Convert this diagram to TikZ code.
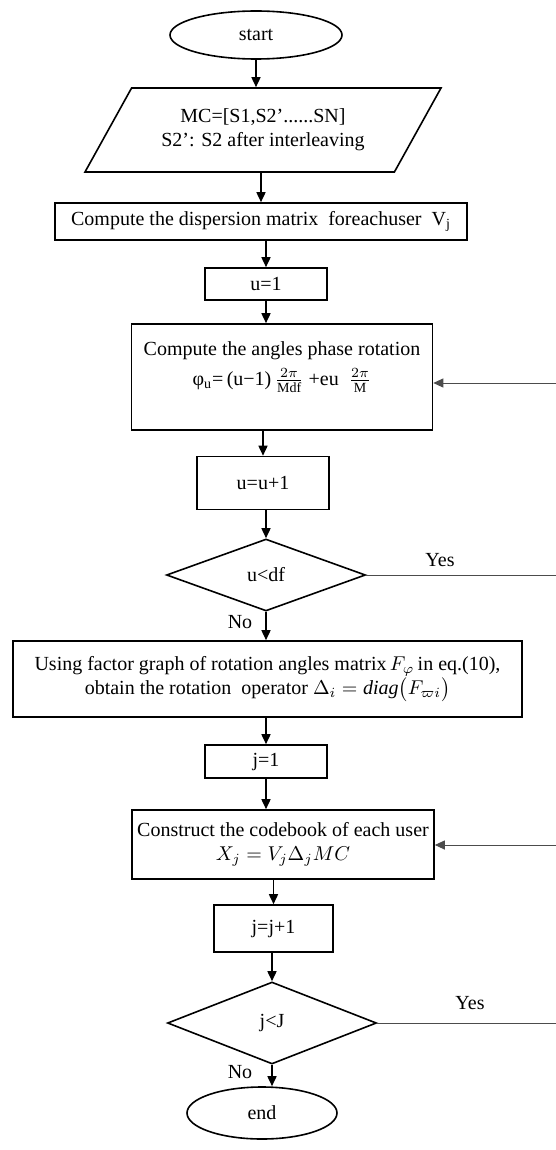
\documentclass[tikz,border=0pt]{standalone}
\usepackage{fontspec}
\setmainfont{Liberation Serif}
\usetikzlibrary{shapes.geometric,arrows.meta}
\tikzset{
  box/.style={draw,line width=0.8pt,rectangle,align=center,inner sep=2pt},
  oval/.style={draw,line width=0.8pt,ellipse,inner sep=1pt},
  cond/.style={draw,line width=0.8pt,diamond,aspect=2.6,inner sep=1pt},
  io/.style={draw,line width=0.8pt,trapezium,trapezium left angle=50,trapezium right angle=130,
    trapezium stretches body,align=center},
  flow/.style={line width=0.8pt,-{Triangle[length=5pt,width=4.5pt]}},
  back/.style={line width=0.5pt,draw=black!70}
}
\begin{document}
\begin{tikzpicture}[x=0.5pt,y=-0.5pt,font=\fontsize{10}{12}\selectfont]
      \useasboundingbox (0,0) rectangle (556,1150);
      \node[oval,minimum width=86pt,minimum height=24pt] (start) at (256,35) {start};
      \node[io,minimum width=178pt,minimum height=42pt] (mc) at (263,130)
        {MC=[S1,S2’......SN]\\S2’: S2 after\ interleaving};
      \node[box,minimum width=206pt,minimum height=18.5pt] (disp) at (261,221.5)
        {Compute the dispersion matrix\ \ foreachuser\ \ V\textsubscript{j}};
      \node[box,minimum width=61pt,minimum height=16pt] (u1) at (266,284) {u=1};
      \node[box,minimum width=150.5pt,minimum height=53pt] (ang) at (282,377)
        {Compute the angles phase rotation\\[3pt]
         φ\textsubscript{u}=\,(u−1)\,$\frac{2\pi}{\mathrm{Mdf}}$ +eu\ \ $\frac{2\pi}{\mathrm{M}}$\\[-2pt]\strut};
      \node[box,minimum width=66pt,minimum height=26.5pt] (uinc) at (263,483) {u=u+1};
      \node[cond,minimum width=99.5pt,minimum height=36pt] (ucheck) at (266,575) {u<df};
      \node[box,minimum width=254.5pt,minimum height=38pt] (fac) at (267.5,679)
        {Using factor graph of rotation angles matrix$\,F_{\varphi}\,$in eq.(10),\\
         obtain the rotation\ \ operator $\Delta_i = \mathit{diag}\big(F_{\varpi i}\big)$};
      \node[box,minimum width=61pt,minimum height=16.5pt] (j1) at (266,761.5) {j=1};
      \node[box,minimum width=151pt,minimum height=34.5pt] (code) at (283,844.5)
        {Construct the codebook of each user\\ $X_j = V_j\Delta_j MC$};
      \node[box,minimum width=59.5pt,minimum height=23.5pt] (jinc) at (273.5,928.5) {j=j+1};
      \node[cond,minimum width=104.5pt,minimum height=41pt] (jcheck) at (272,1023) {j<J};
      \node[oval,minimum width=75pt,minimum height=26pt] (end) at (262,1113) {end};
      % loop ends run off the right edge
      \coordinate (uout) at (556,575);
      \coordinate (uin) at (556,383);
      \coordinate (jout) at (556,1023);
      \coordinate (jin) at (556,845);
      \node (yes1) at (440,560) {Yes};
      \node (no1) at (240,622) {No};
      \node (yes2) at (470,1003) {Yes};
      \node (no2) at (240,1072) {No};
      \begin{scope}[flow]
        \draw (start.south) to (start.south |- mc.north);
        \draw (disp.north |- mc.south) to (disp.north);
        \draw (u1.north |- disp.south) to (u1.north);
        \draw (u1.south) to (u1.south |- ang.north);
        \draw (uinc.north |- ang.south) to (uinc.north);
        \draw (ucheck.north |- uinc.south) to (ucheck.north);
        \draw (ucheck.south) to (ucheck.south |- fac.north);
        \draw (j1.north |- fac.south) to (j1.north);
        \draw (j1.south) to (j1.south |- code.north);
        \draw (jinc.north |- code.south) to (jinc.north);
        \draw (jcheck.north |- jinc.south) to (jcheck.north);
        \draw (jcheck.south) to (jcheck.south |- end.north);
      \end{scope}
      \begin{scope}[back]
        \draw (ucheck.east) to (uout);
        \draw[-{Triangle[length=5pt,width=4.5pt]}] (uin) to (ang.east |- uin);
        \draw (jcheck.east) to (jout);
        \draw[-{Triangle[length=5pt,width=4.5pt]}] (jin) to (code.east |- jin);
      \end{scope}
    \end{tikzpicture}
\end{document}
